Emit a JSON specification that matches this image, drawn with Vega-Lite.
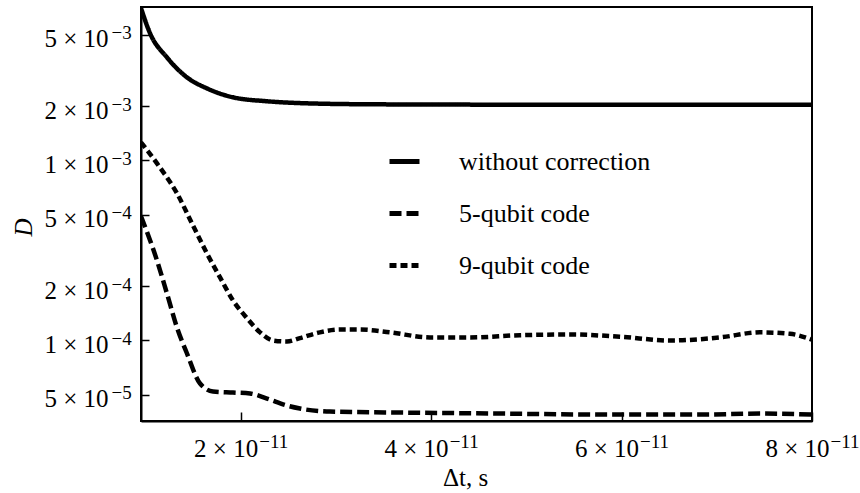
{
  "$schema": "https://vega.github.io/schema/vega-lite/v6.json",
  "width": 671,
  "height": 414,
  "autosize": {"type": "none"},
  "padding": {"left": 141, "top": 7, "right": 48, "bottom": 72},
  "background": "white",
  "config": {
    "font": "Liberation Serif",
    "view": {"stroke": "black", "strokeWidth": 2},
    "axis": {"grid": false, "domainColor": "black", "domainWidth": 2, "tickColor": "black", "tickWidth": 1.5, "labelColor": "black", "titleColor": "black", "labelFont": "Liberation Serif", "titleFont": "Liberation Serif", "labelFontSize": 25, "titleFontSize": 25, "titleFontWeight": "normal"}
  },
  "data": {"values": [
    {"series": "without correction", "t": 0.953e-11, "D": 7.0e-3},
    {"series": "without correction", "t": 1.048e-11, "D": 5.08e-3},
    {"series": "without correction", "t": 1.226e-11, "D": 3.73e-3},
    {"series": "without correction", "t": 1.436e-11, "D": 2.89e-3},
    {"series": "without correction", "t": 1.646e-11, "D": 2.51e-3},
    {"series": "without correction", "t": 1.919e-11, "D": 2.24e-3},
    {"series": "without correction", "t": 2.276e-11, "D": 2.13e-3},
    {"series": "without correction", "t": 2.622e-11, "D": 2.08e-3},
    {"series": "without correction", "t": 3.3e-11, "D": 2.05e-3},
    {"series": "without correction", "t": 4.5e-11, "D": 2.04e-3},
    {"series": "without correction", "t": 6.0e-11, "D": 2.04e-3},
    {"series": "without correction", "t": 8.0e-11, "D": 2.04e-3},
    {"series": "5-qubit code", "t": 0.953e-11, "D": 4.9e-4},
    {"series": "5-qubit code", "t": 1.121e-11, "D": 2.78e-4},
    {"series": "5-qubit code", "t": 1.226e-11, "D": 1.82e-4},
    {"series": "5-qubit code", "t": 1.331e-11, "D": 1.18e-4},
    {"series": "5-qubit code", "t": 1.436e-11, "D": 8.47e-5},
    {"series": "5-qubit code", "t": 1.573e-11, "D": 5.77e-5},
    {"series": "5-qubit code", "t": 1.709e-11, "D": 5.21e-5},
    {"series": "5-qubit code", "t": 1.919e-11, "D": 5.14e-5},
    {"series": "5-qubit code", "t": 2.098e-11, "D": 5.08e-5},
    {"series": "5-qubit code", "t": 2.276e-11, "D": 4.76e-5},
    {"series": "5-qubit code", "t": 2.486e-11, "D": 4.35e-5},
    {"series": "5-qubit code", "t": 2.622e-11, "D": 4.19e-5},
    {"series": "5-qubit code", "t": 2.937e-11, "D": 4.03e-5},
    {"series": "5-qubit code", "t": 3.672e-11, "D": 3.98e-5},
    {"series": "5-qubit code", "t": 4.722e-11, "D": 3.93e-5},
    {"series": "5-qubit code", "t": 5.772e-11, "D": 3.88e-5},
    {"series": "5-qubit code", "t": 6.822e-11, "D": 3.88e-5},
    {"series": "5-qubit code", "t": 7.452e-11, "D": 3.93e-5},
    {"series": "5-qubit code", "t": 8.0e-11, "D": 3.88e-5},
    {"series": "9-qubit code", "t": 0.953e-11, "D": 1.26e-3},
    {"series": "9-qubit code", "t": 1.121e-11, "D": 9.62e-4},
    {"series": "9-qubit code", "t": 1.331e-11, "D": 6.56e-4},
    {"series": "9-qubit code", "t": 1.499e-11, "D": 4.35e-4},
    {"series": "9-qubit code", "t": 1.646e-11, "D": 3.04e-4},
    {"series": "9-qubit code", "t": 1.783e-11, "D": 2.24e-4},
    {"series": "9-qubit code", "t": 1.919e-11, "D": 1.67e-4},
    {"series": "9-qubit code", "t": 2.066e-11, "D": 1.33e-4},
    {"series": "9-qubit code", "t": 2.203e-11, "D": 1.11e-4},
    {"series": "9-qubit code", "t": 2.339e-11, "D": 1.0e-4},
    {"series": "9-qubit code", "t": 2.486e-11, "D": 9.87e-5},
    {"series": "9-qubit code", "t": 2.622e-11, "D": 1.03e-4},
    {"series": "9-qubit code", "t": 2.832e-11, "D": 1.11e-4},
    {"series": "9-qubit code", "t": 3.042e-11, "D": 1.15e-4},
    {"series": "9-qubit code", "t": 3.252e-11, "D": 1.15e-4},
    {"series": "9-qubit code", "t": 3.567e-11, "D": 1.11e-4},
    {"series": "9-qubit code", "t": 3.987e-11, "D": 1.04e-4},
    {"series": "9-qubit code", "t": 4.407e-11, "D": 1.04e-4},
    {"series": "9-qubit code", "t": 4.932e-11, "D": 1.07e-4},
    {"series": "9-qubit code", "t": 5.457e-11, "D": 1.08e-4},
    {"series": "9-qubit code", "t": 5.982e-11, "D": 1.05e-4},
    {"series": "9-qubit code", "t": 6.507e-11, "D": 1.0e-4},
    {"series": "9-qubit code", "t": 7.032e-11, "D": 1.04e-4},
    {"series": "9-qubit code", "t": 7.452e-11, "D": 1.11e-4},
    {"series": "9-qubit code", "t": 7.767e-11, "D": 1.09e-4},
    {"series": "9-qubit code", "t": 8.0e-11, "D": 1.01e-4}
  ]},
  "resolve": {"axis": {"x": "independent", "y": "independent"}},
  "layer": [
    {
      "mark": {"type": "line", "color": "black", "strokeWidth": 4.5, "interpolate": "monotone", "clip": true},
      "encoding": {
        "x": {
          "field": "t", "type": "quantitative",
          "scale": {"domain": [0.953e-11, 8.0e-11], "nice": false, "zero": false},
          "axis": {
            "orient": "bottom",
            "values": [2e-11, 4e-11, 6e-11, 8e-11],
            "labelExpr": "round(datum.value * 1e11) + ' × 10'",
            "tickSize": -9,
            "labelPadding": 44,
            "labelBaseline": "alphabetic",
            "labelAlign": "right",
            "labelOffset": 17,
            "labelFlush": false,
            "labelOverlap": false,
            "labelBound": false,
            "title": "Δt, s",
            "titleX": 324,
            "titleY": 64,
            "titleBaseline": "alphabetic"
          }
        },
        "y": {
          "field": "D", "type": "quantitative",
          "scale": {"type": "log", "domain": [3.573e-5, 7.107e-3], "nice": false},
          "axis": {
            "orient": "left",
            "values": [5e-5, 1e-4, 2e-4, 5e-4, 1e-3, 2e-3, 5e-3],
            "labelExpr": "datum.value < 7e-5 ? '5 × 10' : datum.value < 1.5e-4 ? '1 × 10' : datum.value < 3e-4 ? '2 × 10' : datum.value < 7e-4 ? '5 × 10' : datum.value < 1.5e-3 ? '1 × 10' : datum.value < 3e-3 ? '2 × 10' : '5 × 10'",
            "tickSize": -8,
            "labelPadding": 41,
            "labelAlign": "right",
            "labelBaseline": "alphabetic",
            "labelOffset": 12,
            "labelOverlap": false,
            "labelFlush": false,
            "title": "D",
            "titleFontStyle": "italic",
            "titleX": -118,
            "titleY": 220,
            "titleAlign": "center",
            "titleBaseline": "middle"
          }
        },
        "strokeDash": {
          "field": "series", "type": "nominal",
          "scale": {"domain": ["without correction", "5-qubit code", "9-qubit code"], "range": [[1, 0], [12, 5], [7, 4]]},
          "legend": {
            "title": null,
            "orient": "none",
            "legendX": 246,
            "legendY": 137,
            "symbolType": "stroke",
            "symbolSize": 900,
            "symbolStrokeWidth": 5,
            "symbolStrokeColor": "black",
            "labelFont": "Liberation Serif",
            "labelFontSize": 26,
            "labelColor": "black",
            "labelOffset": 37,
            "rowPadding": 21,
            "labelLimit": 400
          }
        }
      }
    },
    {
      "mark": {"type": "point", "opacity": 0},
      "encoding": {
        "x": {
          "field": "t", "type": "quantitative",
          "axis": {
            "orient": "bottom",
            "values": [2e-11, 4e-11, 6e-11, 8e-11],
            "labelExpr": "'−11'",
            "ticks": false,
            "domain": false,
            "labelFontSize": 19,
            "labelPadding": 26,
            "labelBaseline": "alphabetic",
            "labelAlign": "left",
            "labelOffset": 18,
            "labelFlush": false,
            "labelOverlap": false,
            "labelBound": false,
            "title": null
          }
        },
        "y": {
          "field": "D", "type": "quantitative",
          "axis": {
            "orient": "left",
            "values": [5e-5, 1e-4, 2e-4, 5e-4, 1e-3, 2e-3, 5e-3],
            "labelExpr": "datum.value < 7e-5 ? '−5' : datum.value < 7e-4 ? '−4' : '−3'",
            "ticks": false,
            "domain": false,
            "labelFontSize": 19,
            "labelPadding": 30,
            "labelAlign": "left",
            "labelBaseline": "alphabetic",
            "labelOffset": 4,
            "labelOverlap": false,
            "labelFlush": false,
            "title": null
          }
        }
      }
    }
  ]
}
